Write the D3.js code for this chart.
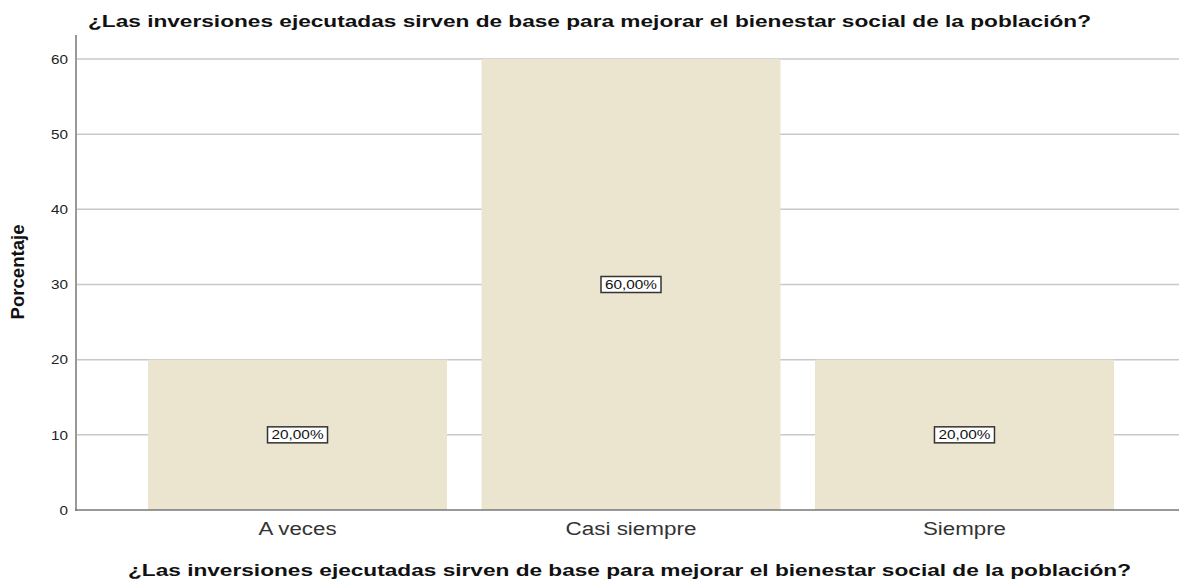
<!DOCTYPE html>
<html><head><meta charset="utf-8">
<script src="https://cdn.jsdelivr.net/npm/d3@7/dist/d3.min.js"></script>
<style>body{margin:0;background:#fff}svg{display:block}</style>
</head><body>
<svg id="c" width="1179" height="580"></svg>
<script>
const categories = ["A veces", "Casi siempre", "Siempre"];
const values = [20, 60, 20];
const labels = ["20,00%", "60,00%", "20,00%"];
const yTicks = [0, 10, 20, 30, 40, 50, 60];
const titleText = "¿Las inversiones ejecutadas sirven de base para mejorar el bienestar social de la población?";
const yTitle = "Porcentaje";

const FONT = "Liberation Sans, Arial, sans-serif";
const svg = d3.select("#c");
const x = d3.scaleBand().domain(categories).range([76, 1186]).paddingInner(0.1034).paddingOuter(0.216);
const y = d3.scaleLinear().domain([0, 60]).range([510, 59]);

// grid
svg.append("g").selectAll("line").data(yTicks.filter(d => d > 0)).join("line")
  .attr("x1", 76).attr("x2", 1179)
  .attr("y1", d => y(d)).attr("y2", d => y(d))
  .attr("stroke", "#c8c8c8").attr("stroke-width", 1.5);

// bars
svg.append("g").selectAll("rect").data(categories).join("rect")
  .attr("x", d => x(d)).attr("width", x.bandwidth())
  .attr("y", (d, i) => y(values[i])).attr("height", (d, i) => y(0) - y(values[i]))
  .attr("fill", "#ebe4cf");

// y axis
const ya = svg.append("g").attr("transform", "translate(76,0)")
  .call(d3.axisLeft(y).tickValues(yTicks).tickSize(0).tickPadding(8));
ya.select(".domain").remove();
ya.selectAll("text").attr("font-family", FONT).attr("font-size", 13).attr("fill", "#222")
  .attr("textLength", d => String(d).length * 8.5).attr("lengthAdjust", "spacingAndGlyphs");
svg.append("line").attr("x1", 76).attr("x2", 76).attr("y1", 35).attr("y2", 511)
  .attr("stroke", "#999").attr("stroke-width", 2);

// x axis
const xLen = {"A veces": 78, "Casi siempre": 131, "Siempre": 83};
const xa = svg.append("g").attr("transform", "translate(0,510)")
  .call(d3.axisBottom(x).tickSize(0).tickPadding(12));
xa.select(".domain").remove();
xa.selectAll("text").attr("font-family", FONT).attr("font-size", 18).attr("fill", "#333")
  .attr("textLength", d => xLen[d]).attr("lengthAdjust", "spacingAndGlyphs");
svg.append("line").attr("x1", 75).attr("x2", 1179).attr("y1", 510).attr("y2", 510)
  .attr("stroke", "#777").attr("stroke-width", 1.5);

// value labels
const lg = svg.append("g").selectAll("g").data(categories).join("g")
  .attr("transform", (d, i) => `translate(${x(d) + x.bandwidth() / 2},${y(values[i] / 2)})`);
lg.append("rect").attr("x", -30).attr("y", -8).attr("width", 60).attr("height", 16)
  .attr("fill", "#fff").attr("stroke", "#333").attr("stroke-width", 1.5);
lg.append("text").text((d, i) => labels[i])
  .attr("text-anchor", "middle").attr("dy", "0.36em")
  .attr("font-family", FONT).attr("font-size", 12.5).attr("fill", "#111")
  .attr("textLength", 52).attr("lengthAdjust", "spacingAndGlyphs");

// titles
svg.append("text").text(titleText).attr("x", 88).attr("y", 27)
  .attr("font-family", FONT).attr("font-weight", "bold").attr("font-size", 17).attr("fill", "#111")
  .attr("textLength", 1003).attr("lengthAdjust", "spacingAndGlyphs");
svg.append("text").text(titleText).attr("x", 128).attr("y", 576)
  .attr("font-family", FONT).attr("font-weight", "bold").attr("font-size", 17).attr("fill", "#111")
  .attr("textLength", 1003).attr("lengthAdjust", "spacingAndGlyphs");
svg.append("text").text(yTitle).attr("transform", "translate(23.5,272) rotate(-90)").attr("text-anchor", "middle")
  .attr("font-family", FONT).attr("font-weight", "bold").attr("font-size", 17.5).attr("fill", "#111")
  .attr("textLength", 95).attr("lengthAdjust", "spacingAndGlyphs");
</script>
</body></html>
